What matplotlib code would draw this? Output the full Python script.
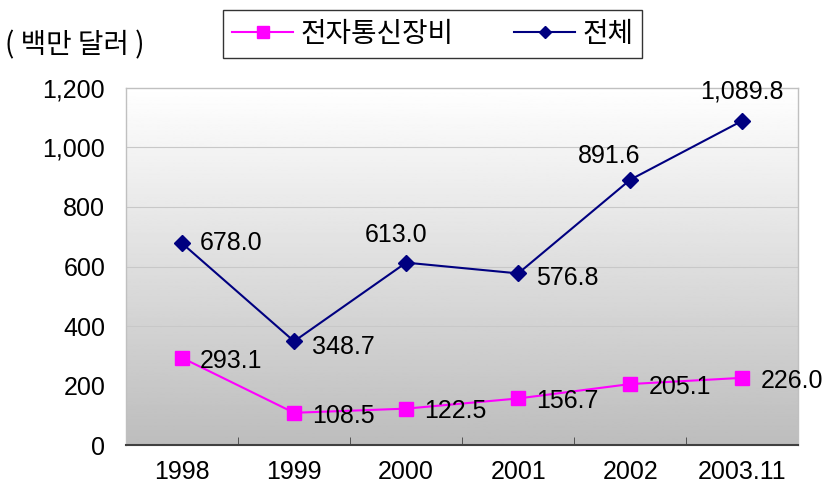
#!/usr/bin/env python3
import numpy as np
import matplotlib
matplotlib.use("Agg")
import matplotlib.pyplot as plt

# data
years = ["1998", "1999", "2000", "2001", "2002", "2003.11"]
telecom = [293.1, 108.5, 122.5, 156.7, 205.1, 226.0]
total = [678.0, 348.7, 613.0, 576.8, 891.6, 1089.8]
yticks = [0, 200, 400, 600, 800, 1000, 1200]

kr_font = ["Noto Sans CJK KR", "DejaVu Sans"]
num_font = ["Liberation Sans", "DejaVu Sans"]

fig = plt.figure(figsize=(8.29, 4.94), dpi=100)
ax = fig.add_axes([0.152, 0.099, 0.811, 0.723])

x = np.arange(len(years))

# gradient background, white at top to grey at bottom
grad = np.linspace(1.0, 0.74, 256).reshape(-1, 1)
ax.imshow(grad, cmap="gray", vmin=0, vmax=1, aspect="auto",
          extent=[0, 1, 0, 1], transform=ax.transAxes, zorder=0)

for yv in yticks[1:-1]:
    ax.axhline(yv, color="#c8c8c8", linewidth=0.8, zorder=1)

ax.plot(x, telecom, color="#FF00FF", marker="s", markersize=10,
        linewidth=1.5, label="전자통신장비", zorder=3)
ax.plot(x, total, color="#000080", marker="D", markersize=8,
        linewidth=1.5, label="전체", zorder=3)

# data labels
for xi, v in zip(x, telecom):
    ax.annotate(f"{v:,.1f}", (xi, v), xytext=(13, -2), textcoords="offset points",
                ha="left", va="center", fontsize=18, family=num_font, zorder=4)

total_offsets = [(13, 0, "left"), (13, -4, "left"), (-7, 20, "center"),
                 (13, -3, "left"), (-15, 17, "center"), (0, 21, "center")]
for xi, v, (dx, dy, ha) in zip(x, total, total_offsets):
    ax.annotate(f"{v:,.1f}", (xi, v), xytext=(dx, dy), textcoords="offset points",
                ha=ha, va="center", fontsize=18, family=num_font, zorder=4)

ax.set_xlim(-0.5, 5.5)
ax.set_ylim(0, 1200)
ax.set_yticks(yticks)
ax.set_yticklabels([f"{v:,}" for v in yticks], family=num_font, fontsize=18)
ax.set_xticks(x)
ax.set_xticklabels(years, family=num_font, fontsize=18)
ax.tick_params(axis="y", length=0, pad=15)
ax.tick_params(axis="x", length=0, pad=11)
ax.set_xticks(np.arange(-0.5, 6.0, 1.0), minor=True)
ax.tick_params(axis="x", which="minor", direction="in", length=6, color="#404040")

for side in ["left", "top", "right"]:
    ax.spines[side].set_color("#c0c0c0")
    ax.spines[side].set_linewidth(1.0)
ax.spines["bottom"].set_color("#404040")
ax.spines["bottom"].set_linewidth(1.5)

fig.text(0.006, 0.908, "( 백만 달러 )", family=kr_font, fontsize=20,
         ha="left", va="center")

leg = fig.legend(loc="center", bbox_to_anchor=(0.522, 0.931), ncol=2,
                 prop={"family": kr_font, "size": 20}, frameon=True,
                 fancybox=False, edgecolor="black", handlelength=2.2,
                 handletextpad=0.25, columnspacing=2.2, borderpad=0.32,
                 borderaxespad=0, markerscale=0.8)
leg.get_frame().set_linewidth(1.0)

fig.savefig("out.png", dpi=100)
